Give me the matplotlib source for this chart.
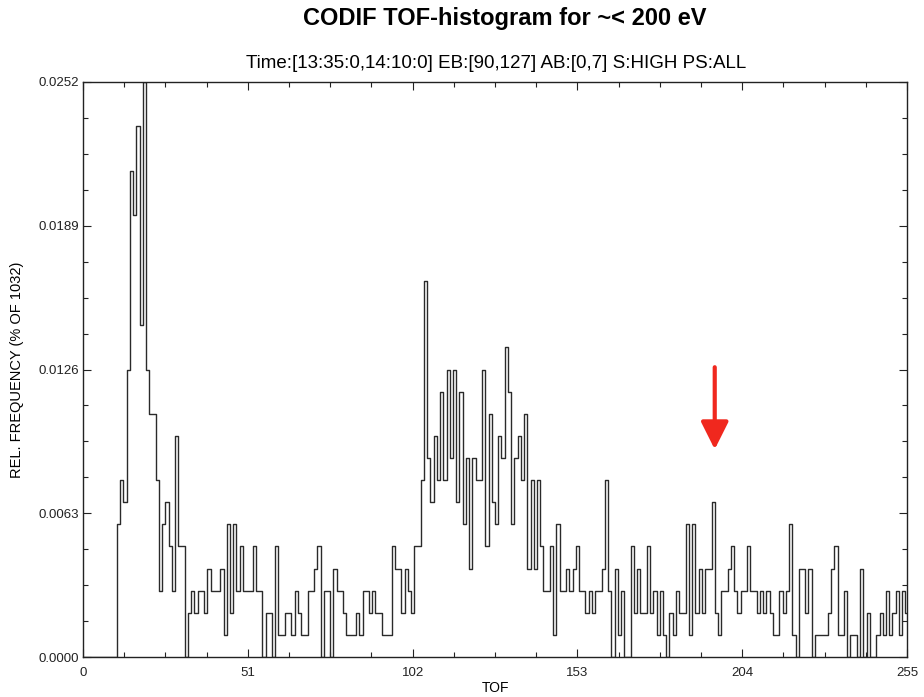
import numpy as np
import matplotlib
matplotlib.use("Agg")
import matplotlib.pyplot as plt

# TOF channel counts, relative frequency = count / total
total = 1032
counts = [
    0, 0, 0, 0, 0, 0, 0, 0, 0, 0,
    0, 6, 8, 7, 13, 22, 20, 24, 15, 26,
    13, 11, 11, 8, 3, 6, 7, 5, 3, 10,
    5, 5, 0, 2, 3, 2, 3, 3, 2, 4,
    3, 3, 3, 4, 1, 6, 2, 6, 3, 5,
    3, 3, 3, 5, 3, 3, 0, 2, 2, 0,
    5, 1, 1, 2, 2, 1, 3, 2, 1, 1,
    3, 3, 4, 5, 0, 3, 3, 0, 4, 3,
    3, 2, 1, 1, 1, 2, 1, 3, 3, 2,
    3, 2, 2, 1, 1, 1, 5, 4, 4, 2,
    4, 3, 2, 5, 5, 8, 17, 9, 7, 10,
    8, 12, 8, 13, 9, 13, 7, 12, 6, 9,
    4, 9, 8, 8, 13, 5, 11, 7, 6, 10,
    9, 14, 12, 6, 9, 10, 8, 11, 4, 8,
    4, 8, 5, 3, 3, 5, 1, 6, 3, 3,
    4, 3, 4, 5, 3, 3, 2, 3, 2, 3,
    3, 4, 8, 3, 0, 4, 1, 3, 0, 0,
    5, 2, 4, 2, 2, 5, 2, 3, 1, 3,
    1, 0, 2, 1, 3, 2, 2, 6, 1, 6,
    2, 4, 2, 4, 4, 7, 2, 1, 3, 3,
    4, 5, 3, 2, 3, 3, 5, 3, 3, 2,
    3, 2, 3, 2, 1, 1, 3, 2, 3, 6,
    1, 0, 4, 4, 2, 4, 0, 1, 1, 1,
    1, 2, 4, 5, 1, 1, 3, 0, 1, 1,
    0, 4, 0, 2, 0, 0, 1, 2, 1, 3,
    1, 2, 3, 1, 3, 2,
]
tof = np.arange(len(counts))
freq = np.array(counts) / total

x_ticks = [0, 51, 102, 153, 204, 255]
y_ticks = [0.0, 0.0063, 0.0126, 0.0189, 0.0252]

title = "CODIF TOF-histogram for ~< 200 eV"
subtitle = "Time:[13:35:0,14:10:0] EB:[90,127] AB:[0,7] S:HIGH PS:ALL"
arrow_tof = 195.5
arrow_top, arrow_tip = 0.0127, 0.0091

plt.rcParams["font.family"] = ["Liberation Sans", "DejaVu Sans"]

fig = plt.figure(figsize=(9.24, 6.97), dpi=100)
ax = fig.add_axes([83 / 924, 1 - 657 / 697, 824 / 924, 575 / 697])

ax.step(tof, freq, where="mid", color="#2a2a2a", lw=1.0)

ax.set_xlim(0, 255)
ax.set_ylim(0, 0.0252)
ax.set_xticks(x_ticks)
ax.set_xticks(np.arange(0, 255.1, 12.75), minor=True)
ax.set_yticks(y_ticks)
ax.set_yticks(np.arange(0, 0.02521, 0.001575), minor=True)
ax.set_yticklabels(["%.4f" % v for v in y_ticks])
ax.tick_params(which="both", direction="in", top=True, right=True,
               labelsize=9.5, colors="#222222")
ax.tick_params(axis="y", which="major", length=6, width=0.8, pad=3)
ax.tick_params(axis="x", which="major", length=6, width=0.8, pad=7)
ax.tick_params(which="minor", length=3.5, width=0.8)
for s in ax.spines.values():
    s.set_linewidth(1.0)
    s.set_color("#222222")

ax.set_xlabel("TOF", fontsize=10, labelpad=2)
ax.set_ylabel("REL. FREQUENCY (% OF 1032)", fontsize=10.5, labelpad=10)

fig.text(505 / 924, 1 - 19 / 697, title, ha="center", va="center",
         fontsize=17, fontweight="bold")
fig.text(496 / 924, 1 - 63 / 697, subtitle, ha="center", va="center",
         fontsize=13.5)

ax.annotate("", xy=(arrow_tof, arrow_tip), xytext=(arrow_tof, arrow_top),
            arrowprops=dict(arrowstyle="-|>,head_length=0.7,head_width=0.35",
                            lw=3, color="#f0281e", mutation_scale=24,
                            shrinkA=0, shrinkB=0))

fig.savefig("out.png", dpi=100)
